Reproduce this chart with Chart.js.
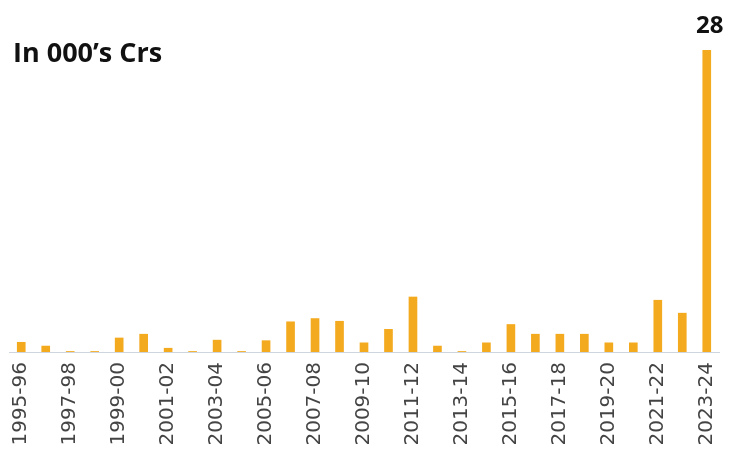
<!DOCTYPE html>
<html>
<head>
<meta charset="utf-8">
<script src="https://cdn.jsdelivr.net/npm/chart.js@4"></script>
<style>
  body { margin: 0; background: #fff; }
</style>
</head>
<body>
<canvas id="chart" width="733" height="462"></canvas>
<script>
var years = ["1995-96", "1996-97", "1997-98", "1998-99", "1999-00", "2000-01", "2001-02", "2002-03",
  "2003-04", "2004-05", "2005-06", "2006-07", "2007-08", "2008-09", "2009-10", "2010-11",
  "2011-12", "2012-13", "2013-14", "2014-15", "2015-16", "2016-17", "2017-18", "2018-19",
  "2019-20", "2020-21", "2021-22", "2022-23", "2023-24"];
var amounts = [0.9, 0.55, 0.05, 0.05, 1.3, 1.65, 0.35, 0.05, 1.1, 0.05, 1.05, 2.8, 3.1, 2.85, 0.85, 2.1,
  5.1, 0.55, 0.05, 0.85, 2.55, 1.65, 1.65, 1.65, 0.85, 0.85, 4.8, 3.6, 28];
var unitLabel = "In 000\u2019s Crs";

// draws the unit caption and the value over the last bar
var labelsPlugin = {
  id: 'labels',
  afterDatasetsDraw: function(chart) {
    var ctx = chart.ctx;
    ctx.save();
    ctx.fillStyle = '#111';
    ctx.font = 'bold 27px "Open Sans"';
    ctx.textAlign = 'left';
    ctx.textBaseline = 'alphabetic';
    ctx.fillText(unitLabel, 13, 62);

    var meta = chart.getDatasetMeta(0);
    var last = meta.data[meta.data.length - 1];
    ctx.font = 'bold 24px "Open Sans"';
    ctx.textAlign = 'center';
    ctx.fillText(String(amounts[amounts.length - 1]), last.x + 3, 33);
    ctx.restore();
  }
};

var chart = new Chart('chart', {
  type: 'bar',
  data: {
    labels: years,
    datasets: [{
      data: amounts,
      backgroundColor: '#F4AA1E',
      barThickness: 8
    }]
  },
  options: {
    responsive: false,
    animation: false,
    layout: { padding: { left: 9, right: 14, top: 50, bottom: 0 } },
    scales: {
      x: {
        grid: { display: false, drawTicks: false },
        border: { display: true, color: '#cfd5de', width: 1 },
        ticks: {
          autoSkip: false,
          maxRotation: 90,
          minRotation: 90,
          padding: 10,
          color: '#444',
          font: { family: '"DejaVu Sans"', size: 20 },
          callback: function(v, i) { return i % 2 === 0 ? years[i] : ''; }
        },
        afterFit: function(scale) {
          scale.height = 110;
          scale.paddingLeft = 0;
          scale.paddingRight = 0;
        }
      },
      y: { display: false, min: 0, max: 28 }
    },
    plugins: {
      legend: { display: false },
      tooltip: { enabled: false }
    }
  },
  plugins: [labelsPlugin]
});
</script>
</body>
</html>
